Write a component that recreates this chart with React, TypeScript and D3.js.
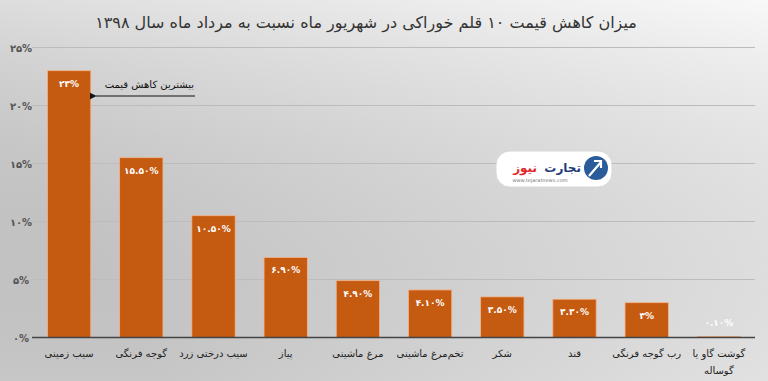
import React from "react";
import * as d3 from "d3";

const categories = [
  "سیب زمینی",
  "گوجه فرنگی",
  "سیب درختی زرد",
  "پیاز",
  "مرغ ماشینی",
  "تخم‌مرغ ماشینی",
  "شکر",
  "قند",
  "رب گوجه فرنگی",
  "گوشت گاو یا|گوساله",
];
const values = [23, 15.5, 10.5, 6.9, 4.9, 4.1, 3.5, 3.3, 3, 0.1];
const valueLabels = ["۲۳%", "۱۵.۵۰%", "۱۰.۵۰%", "۶.۹۰%", "۴.۹۰%", "۴.۱۰%", "۳.۵۰%", "۳.۳۰%", "۳%", "۰.۱۰%"];
const yTicks = [0, 5, 10, 15, 20, 25];
const yTickLabels = ["۰%", "۵%", "۱۰%", "۱۵%", "۲۰%", "۲۵%"];
const title = "میزان کاهش قیمت ۱۰ قلم خوراکی در شهریور ماه نسبت به مرداد ماه سال ۱۳۹۸";
const annotation = "بیشترین کاهش قیمت";

const W = 768;
const H = 381;
const FONT = "'DejaVu Sans', sans-serif";

export default function App() {
  const x = d3.scaleBand<number>().domain(d3.range(categories.length)).range([33, 755]).paddingInner(0.4).paddingOuter(0.2);
  const y = d3.scaleLinear().domain([0, 25]).range([337.5, 47.5]);
  const bw = x.bandwidth();

  return (
    <svg width={W} height={H} style={{ position: "absolute", left: 0, top: 0 }}>
      <defs>
        <linearGradient id="bg" x1="0" y1="0.3" x2="1" y2="0">
          <stop offset="0" stopColor="#cfcfcf" />
          <stop offset="0.5" stopColor="#e2e2e2" />
          <stop offset="1" stopColor="#f6f6f6" />
        </linearGradient>
        <linearGradient id="bgv" x1="0" y1="0" x2="0" y2="1">
          <stop offset="0" stopColor="#ffffff" stopOpacity="0.25" />
          <stop offset="1" stopColor="#000000" stopOpacity="0.04" />
        </linearGradient>
        <marker id="arr" viewBox="0 0 10 10" refX="1" refY="5" markerWidth="6" markerHeight="6" orient="auto">
          <path d="M10,0 L0,5 L10,10 z" fill="#111" />
        </marker>
      </defs>
      <rect x={0} y={0} width={W} height={H} fill="url(#bg)" />
      <rect x={0} y={0} width={W} height={H} fill="url(#bgv)" />
      <text x={366} y={28} textAnchor="middle" fontFamily={FONT} fontSize={16} fill="#333" direction="rtl">
        {title}
      </text>
      {yTicks.map((t, i) => (
        <g key={t}>
          {t !== 0 && <line x1={32} x2={755} y1={y(t)} y2={y(t)} stroke="#bcbcbc" strokeWidth={1} />}
          <text x={21} y={y(t) + 4} textAnchor="middle" fontFamily={FONT} fontSize={10} fontWeight="bold" fill="#555">
            {yTickLabels[i]}
          </text>
        </g>
      ))}
      {values.map((v, i) => (
        <g key={i}>
          <rect x={x(i)} y={y(v)} width={bw} height={y(0) - y(v)} fill="#C55A11" stroke="#f3b48a" strokeWidth={0.8} />
          <text
            x={(x(i) as number) + bw / 2}
            y={i === values.length - 1 ? y(v) - 10 : y(v) + 16}
            textAnchor="middle"
            fontFamily={FONT}
            fontSize={9}
            fontWeight="bold"
            fill="#ffffff"
          >
            {valueLabels[i]}
          </text>
        </g>
      ))}
      <line x1={32} x2={755} y1={y(0)} y2={y(0)} stroke="#444" strokeWidth={1.5} />
      {categories.map((c, i) => {
        const lines = c.split("|");
        const cx = (x(i) as number) + bw / 2;
        return (
          <g key={i}>
            {lines.map((l, j) => (
              <text key={j} x={cx} y={357 + j * 17} textAnchor="middle" fontFamily={FONT} fontSize={10} fill="#222">
                {l}
              </text>
            ))}
          </g>
        );
      })}
      {/* annotation */}
      <text x={194} y={88} textAnchor="end" fontFamily={FONT} fontSize={10} fill="#111">
        {annotation}
      </text>
      <line x1={195} x2={96} y1={96} y2={96} stroke="#111" strokeWidth={1.2} markerEnd="url(#arr)" />
      {/* logo */}
      <g>
        <rect x={496} y={151} width={116} height={36} rx={14} fill="#ffffff" stroke="#d8d8d8" />
        <circle cx={596} cy={168} r={12} fill="#2a5b9a" />
        <path d="M589,176 L601,162 M594,161 L601,161 L601,168" stroke="#fff" strokeWidth={2.2} fill="none" />
        <text x={581} y={172} textAnchor="end" fontFamily={FONT} fontSize={12} fontWeight="bold" fill="#1f3d7a">
          تجارت
        </text>
        <text x={537} y={172} textAnchor="end" fontFamily={FONT} fontSize={12} fontWeight="bold" fill="#e0262b">
          نیوز
        </text>
        <text x={540} y={182} textAnchor="middle" fontFamily={FONT} fontSize={5} fill="#777">
          www.tejaratnews.com
        </text>
      </g>
    </svg>
  );
}
